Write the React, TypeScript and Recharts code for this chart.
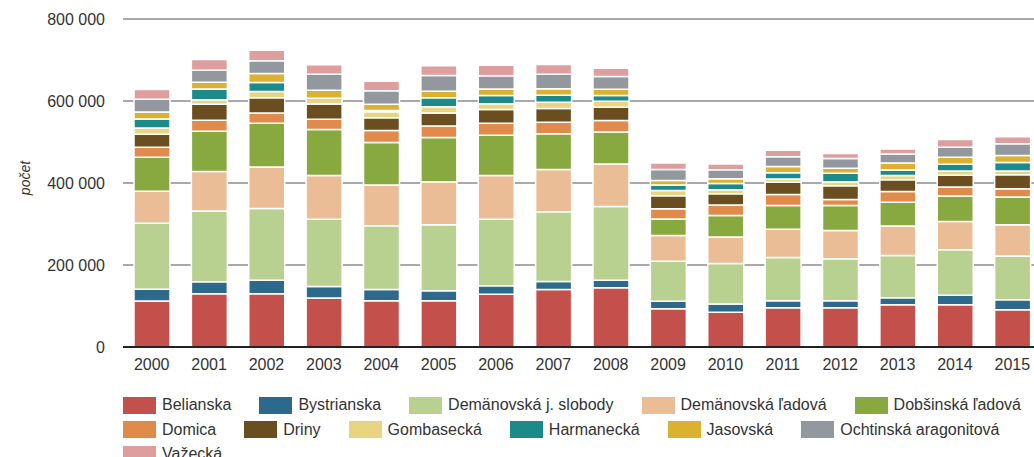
import { Bar, BarChart, CartesianGrid, XAxis, YAxis } from "recharts"

const years = ["2000", "2001", "2002", "2003", "2004", "2005", "2006", "2007", "2008", "2009", "2010", "2011", "2012", "2013", "2014", "2015"]

const belianska = [112000, 130000, 130000, 119500, 113000, 113000, 128500, 140000, 144600, 93500, 85000, 96000, 96000, 103000, 103000, 91000]
const bystrianska = [29000, 29000, 33000, 28000, 27000, 24000, 21000, 20000, 18000, 18000, 20000, 17000, 17000, 17000, 23000, 24000]
const demanovskaSlobody = [161000, 173000, 175000, 164000, 156000, 161000, 162000, 170000, 180000, 97500, 98500, 105000, 102000, 103000, 111000, 107000]
const demanovskaLadova = [78000, 96000, 101000, 107000, 99000, 105000, 107000, 103000, 104000, 63000, 65000, 69000, 69000, 72000, 69000, 76000]
const dobsinska = [83000, 98000, 107000, 112000, 104000, 108000, 98000, 87000, 78000, 40000, 52000, 58000, 61000, 58000, 62000, 68000]
const domica = [24000, 27000, 25000, 25000, 29000, 28000, 29000, 28000, 28000, 25000, 26000, 27000, 15000, 26000, 22000, 20000]
const driny = [32000, 39000, 37000, 37000, 31000, 32000, 34000, 34000, 32000, 32000, 27000, 30000, 33000, 29000, 29000, 34000]
const gombasecka = [15000, 11000, 15000, 14000, 15000, 15000, 14000, 15000, 15000, 13000, 10000, 8000, 10000, 10000, 10000, 9000]
const harmanecka = [22000, 26000, 22000, 0, 3000, 22000, 20000, 17000, 14000, 13000, 15000, 15000, 21000, 14000, 17000, 21000]
const jasovska = [17000, 17000, 22000, 20000, 15000, 16000, 16000, 16000, 15000, 11000, 12000, 15000, 12000, 17000, 17000, 17000]
const ochtinska = [31000, 29000, 31000, 39000, 33000, 38000, 32000, 35000, 31000, 27000, 22000, 24000, 24000, 22000, 24000, 29000]
const vazecka = [24000, 26000, 26000, 23000, 23000, 24000, 26000, 24000, 20000, 16000, 14000, 16000, 12000, 12000, 19000, 17000]

const yTicks = [0, 200000, 400000, 600000, 800000]

const series = [
  { name: "Belianska", color: "#c4504c", values: belianska },
  { name: "Bystrianska", color: "#2c698b", values: bystrianska },
  { name: "Demänovská j. slobody", color: "#b8d090", values: demanovskaSlobody },
  { name: "Demänovská ľadová", color: "#ebbd97", values: demanovskaLadova },
  { name: "Dobšinská ľadová", color: "#88a93f", values: dobsinska },
  { name: "Domica", color: "#e08b4b", values: domica },
  { name: "Driny", color: "#6b4e1f", values: driny },
  { name: "Gombasecká", color: "#e9d581", values: gombasecka },
  { name: "Harmanecká", color: "#1d8a8a", values: harmanecka },
  { name: "Jasovská", color: "#dcb131", values: jasovska },
  { name: "Ochtinská aragonitová", color: "#93979e", values: ochtinska },
  { name: "Važecká", color: "#de9e9e", values: vazecka },
]

const chartData = years.map((year, i) => {
  const row: Record<string, string | number> = { year }
  series.forEach((s) => {
    row[s.name] = s.values[i]
  })
  return row
})

const font = "'Liberation Sans', Arial, Helvetica, sans-serif"

const formatThousands = (v: number) => String(v).replace(/\B(?=(\d{3})+(?!\d))/g, " ")

function YLabel() {
  return (
    <text
      x={30}
      y={178}
      transform="rotate(-90, 30, 178)"
      textAnchor="middle"
      fontSize={14}
      fontStyle="italic"
      fill="#333"
      fontFamily={font}
    >
      počet
    </text>
  )
}

export default function App() {
  return (
    <div
      style={{
        position: "fixed",
        left: 0,
        top: 0,
        width: 1034,
        height: 457,
        overflow: "hidden",
        background: "#fff",
        fontFamily: font,
      }}
    >
      <BarChart width={1060} height={390} data={chartData} margin={{ top: 19, right: 19, bottom: 13, left: 0 }}>
        <CartesianGrid vertical={false} stroke="#a9a9ad" strokeWidth={2} />
        <XAxis
          dataKey="year"
          height={30}
          tickLine={false}
          tickSize={0}
          tickMargin={12}
          axisLine={{ stroke: "#222", strokeWidth: 2 }}
          tick={{ fill: "#333", fontSize: 16, fontFamily: font }}
        />
        <YAxis
          width={123}
          domain={[0, 800000]}
          ticks={yTicks}
          axisLine={false}
          tickLine={false}
          tickSize={0}
          tickMargin={18}
          tickFormatter={formatThousands}
          tick={{ fill: "#333", fontSize: 16, fontFamily: font }}
          label={<YLabel />}
        />
        {series.map((s) => (
          <Bar
            key={s.name}
            dataKey={s.name}
            stackId="a"
            fill={s.color}
            stroke="#fff"
            strokeWidth={1.5}
            barSize={36}
            isAnimationActive={false}
          />
        ))}
      </BarChart>
      <div
        style={{
          position: "absolute",
          left: 123,
          top: 393,
          width: 940,
          display: "flex",
          flexWrap: "wrap",
          fontSize: 16,
          color: "#333",
        }}
      >
        {series.map((s) => (
          <div key={s.name} style={{ display: "flex", alignItems: "center", height: 24.5, marginRight: 28, whiteSpace: "nowrap" }}>
            <span style={{ display: "inline-block", width: 33, height: 17, background: s.color, marginRight: 6 }} />
            <span>{s.name}</span>
          </div>
        ))}
      </div>
    </div>
  )
}
